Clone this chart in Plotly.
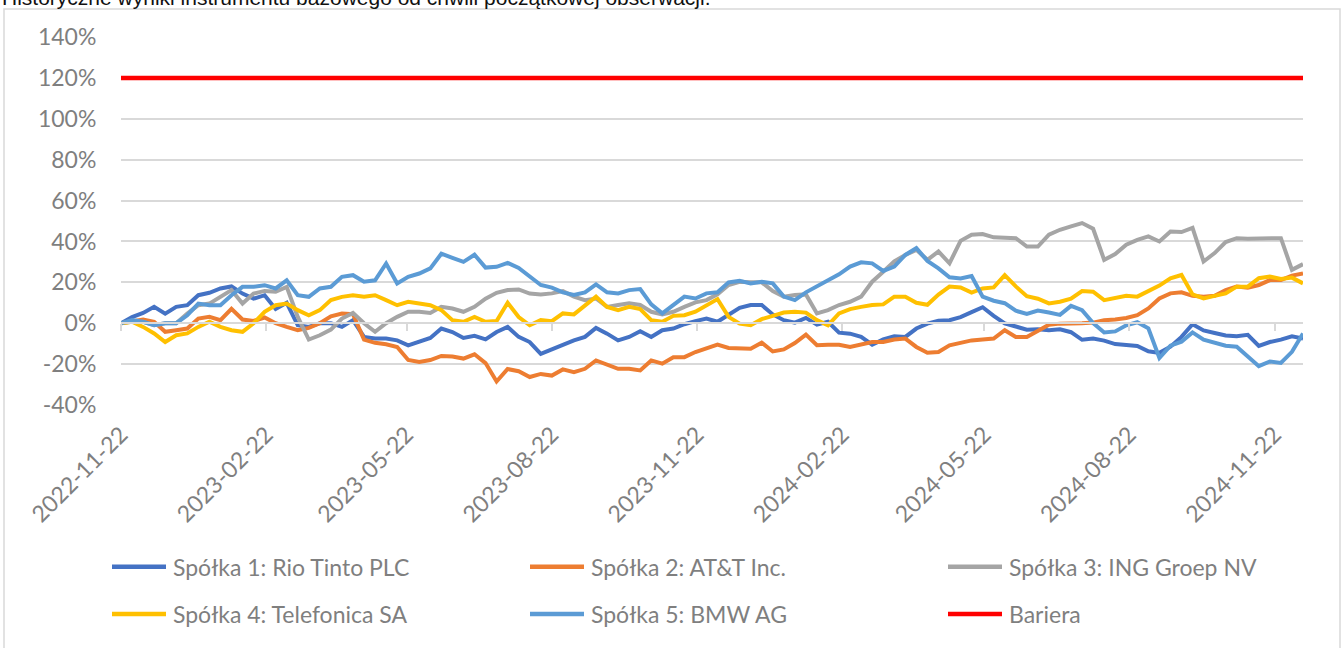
import pandas as pd
import plotly.graph_objects as go

# ---------------- data ----------------
START_DATE = "2022-11-22"
dates = pd.date_range(START_DATE, periods=108, freq="7D")

series_names = [
    "Spółka 1: Rio Tinto PLC",
    "Spółka 2: AT&T Inc.",
    "Spółka 3: ING Groep NV",
    "Spółka 4: Telefonica SA",
    "Spółka 5: BMW AG",
    "Bariera",
]

rio = [
    0, 3, 5, 8, 4.7, 8, 8.8, 13.7, 14.9, 17,
    18, 14.5, 12, 13.7, 7, 10, -1, -1.8, 0, 0,
    -1.8, 1.5, -6.7, -7.5, -7.5, -8.4, -10.8, -9.2, -7.2, -2.6,
    -4.3, -7.2, -6.2, -7.9, -4.3, -1.8, -6.7, -9.2, -15, -12.8,
    -10.5, -8.4, -6.7, -2.3, -5.1, -8.4, -6.7, -3.9, -6.7, -3.4,
    -2.6, -0.5, 1, 2.3, 0.7, 3.9, 7.5, 8.9, 8.9, 4.3,
    1.5, 0.3, 2.6, -0.7, 0.7, -4.6, -5.1, -6.7, -10.5, -7.9,
    -6.4, -6.7, -2.6, -0.2, 1.2, 1.5, 3, 5.4, 7.8, 3.6,
    -0.1, -1.6, -3.2, -3, -3.4, -3, -4.4, -8.1, -7.5, -8.5,
    -10.2, -10.6, -11.1, -13.7, -14.5, -11.5, -6.7, -0.5, -3.5, -4.8,
    -6, -6.4, -5.7, -11.1, -9.2, -8, -6.4, -7.5,
]

att = [
    0, 1, 1.8, 0.7, -4.2, -3.4, -2.6, 2.3, 3.1, 1.5,
    7, 1.8, 1.1, 2.8, 0, -1.8, -3.4, -2.3, 0, 3.4,
    4.7, 4.4, -8, -9.6, -10.3, -11.6, -18, -19, -18, -16,
    -16.3, -17.3, -15.2, -19.5, -28.5, -22.4, -23.5, -26.3, -24.8, -25.6,
    -22.6, -23.9, -22.3, -18.2, -20.3, -22.3, -22.3, -23.1, -18.2, -19.8,
    -16.6, -16.6, -14.1, -12.1, -10.5, -12.1, -12.5, -12.5, -9.5, -13.8,
    -12.8, -9.7, -5.6, -10.8, -10.5, -10.5, -11.6, -10.5, -9.2, -9.2,
    -8, -7.5, -11.6, -14.4, -14.1, -10.8, -9.7, -8.4, -8, -7.5,
    -3.4, -6.7, -6.7, -3.9, -0.7, -0.2, -0.2, 0, 0.3, 1.5,
    1.8, 2.6, 3.9, 7.2, 12.1, 14.6, 15.1, 13.4, 13, 13.4,
    16.2, 17.9, 17.4, 18.7, 21.1, 21.1, 23.3, 24.4,
]

ing = [
    0, 0.7, 0.7, -1, 0, 0, 4.7, 8.8, 9.6, 12.9,
    16.2, 9.6, 14.5, 15.8, 15.4, 17.8, 3.1, -8, -5.9, -3.1,
    2.3, 5, 0, -4.2, 0, 3.1, 5.6, 5.6, 5, 8,
    7.2, 5.6, 8, 12, 14.9, 16.2, 16.5, 14.5, 14.1, 14.6,
    15.7, 13, 11.3, 12.1, 8, 8.9, 9.7, 8.9, 5.6, 4.3,
    5.6, 8, 10.2, 11.3, 14.1, 18.7, 20.3, 20, 20, 15.7,
    13, 13.8, 14.1, 4.8, 6.4, 8.9, 10.5, 13, 20.3, 25.2,
    30.2, 33.4, 35.9, 31, 35.1, 29.3, 40.3, 43.3, 43.6, 42,
    42, 41.6, 37.5, 37.5, 43.3, 45.7, 47.4, 49, 46.2, 31,
    33.8, 38.4, 40.8, 42.5, 40, 44.9, 44.6, 46.6, 30.2, 34.3,
    39.7, 41.6, 41.3, 41.3, 41.6, 41.6, 26.1, 28.9,
]

tef = [
    0, 0.7, -1.8, -5, -9.2, -5.9, -5, -1.8, 0.7, -1.8,
    -3.4, -4.2, 0, 5.6, 8.8, 9.6, 6.4, 3.9, 6.4, 11.3,
    12.9, 13.7, 12.9, 13.7, 11.3, 8.8, 10.5, 9.6, 8.8, 6.4,
    1.5, 0.7, 3.1, 0.7, 1.1, 10, 3, -1, 1.5, 1,
    4.8, 4.3, 8.9, 13, 8, 6.4, 8, 6.9, 1.5, 0.7,
    3.6, 3.9, 5.6, 8.9, 11.8, 3.1, -0.2, -1, 2, 3.6,
    5.2, 5.6, 5.2, 1.5, -1, 4.8, 6.9, 8, 8.9, 9.2,
    13, 13, 10, 9, 14, 17.9, 17.5, 15, 17, 17.5,
    23.5, 18, 13.2, 12, 9.7, 10.5, 12, 15.7, 15.4, 11.3,
    12.5, 13.4, 13, 15.7, 18.4, 22, 23.6, 14.1, 12.1, 13.4,
    14.6, 17.9, 17.9, 22, 22.8, 21.6, 22.3, 19.5,
]

bmw = [
    0, 1.5, 0.7, -1, 0, 0, 3.9, 9.6, 8.8, 8.8,
    13.7, 17.8, 17.8, 18.6, 17, 21, 13.7, 12.9, 17, 17.8,
    22.7, 23.5, 20.3, 21, 29.2, 19.4, 22.7, 24.3, 26.8, 34,
    32, 30, 33.5, 27.2, 27.6, 29.5, 27, 22.8, 18.7, 17.4,
    15.1, 13.8, 15.1, 19, 15.1, 14.6, 16.2, 16.7, 9.2, 4.8,
    9.2, 13, 12.1, 14.6, 15.1, 20, 20.7, 19.5, 20.3, 19.5,
    13, 11.3, 15.1, 17.9, 21.1, 23.9, 27.7, 29.8, 29.3, 25.6,
    27.7, 33.4, 36.7, 30.5, 26.8, 22.5, 21.9, 23.1, 13, 11,
    9.8, 6.1, 4.5, 6.2, 5.2, 4.1, 8.5, 6.4, 0.1, -4.5,
    -4, -1, 0.5, -2.5, -17, -11, -9, -4.5, -8, -9.5,
    -11, -11.5, -16.5, -21, -18.7, -19.4, -14, -5,
]

barrier_level = 120
bariera = [barrier_level] * len(dates)

x_tick_vals = ["2022-11-22", "2023-02-22", "2023-05-22", "2023-08-22", "2023-11-22",
               "2024-02-22", "2024-05-22", "2024-08-22", "2024-11-22"]
x_tick_text = list(x_tick_vals)
y_tick_vals = [-40, -20, 0, 20, 40, 60, 80, 100, 120, 140]
y_tick_text = ["-40%", "-20%", "0%", "20%", "40%", "60%", "80%", "100%", "120%", "140%"]

title_text = "Historyczne wyniki instrumentu bazowego od chwili początkowej obserwacji."

# ---------------- style / layout ----------------
colors = ["#4472C4", "#ED7D31", "#A5A5A5", "#FFC000", "#5B9BD5", "#FF0000"]
FONT = "Lato"
TXT = "#7F7F7F"
GRID = "#D9D9D9"

W, H = 1343, 648
L, R, T, B = 121, 40, 37, 243
PW, PH = W - L - R, H - T - B


def px_x(px):
    return (px - L) / PW


def px_y(py):
    return (H - B - py) / PH


fig = go.Figure()
for name, vals, col in zip(series_names[:5], [rio, att, ing, tef, bmw], colors[:5]):
    fig.add_trace(go.Scatter(x=dates, y=vals, mode="lines", name=name,
                             line=dict(color=col, width=4), showlegend=False))
fig.add_trace(go.Scatter(x=dates, y=bariera, mode="lines", name=series_names[5],
                         xaxis="x2", line=dict(color=colors[5], width=4.5),
                         showlegend=False))

y_min, y_max = y_tick_vals[0], y_tick_vals[-1]

fig.update_layout(
    width=W, height=H,
    margin=dict(l=L, r=R, t=T, b=B, pad=0),
    paper_bgcolor="white", plot_bgcolor="white",
    font=dict(family=FONT, size=23, color=TXT),
    xaxis=dict(type="date", range=[dates[0], dates[-1]],
               tickmode="array", tickvals=x_tick_vals, ticktext=x_tick_text,
               tickangle=-45, showgrid=False, zeroline=False, showline=False,
               ticks="outside", ticklen=6, tickcolor="rgba(0,0,0,0)",
               tickfont=dict(family=FONT, size=23, color=TXT)),
    xaxis2=dict(type="date", overlaying="x", matches="x", anchor="free",
                position=(0 - y_min) / (y_max - y_min), side="bottom",
                tickmode="array", tickvals=x_tick_vals, showticklabels=False,
                showgrid=False, zeroline=False, showline=True,
                linecolor=GRID, linewidth=1.5,
                ticks="outside", ticklen=7, tickwidth=1.5, tickcolor=GRID),
    yaxis=dict(range=[y_min, y_max], tickmode="array",
               tickvals=y_tick_vals, ticktext=y_tick_text,
               showgrid=True, gridcolor=GRID, gridwidth=1.5,
               zeroline=False, showline=False,
               ticks="outside", ticklen=19, tickcolor="rgba(0,0,0,0)",
               tickfont=dict(family=FONT, size=23, color=TXT)),
)

shapes = [dict(type="rect", xref="paper", yref="paper",
               x0=px_x(4), x1=px_x(1340), y0=px_y(700), y1=px_y(9),
               line=dict(color=GRID, width=1.5), fillcolor="rgba(0,0,0,0)",
               layer="below")]
annotations = [dict(text=title_text, xref="paper", yref="paper",
                    x=px_x(0), y=px_y(11), xanchor="left", yanchor="bottom",
                    showarrow=False,
                    font=dict(family="Liberation Sans", size=21, color="#111111"))]

# manual legend: 2 rows x 3 columns
for i, (name, col) in enumerate(zip(series_names, colors)):
    c, r = i % 3, i // 3
    sx0 = 112 + 418 * c
    sy = 566.7 + 47.3 * r
    shapes.append(dict(type="line", xref="paper", yref="paper",
                       x0=px_x(sx0), x1=px_x(sx0 + 54), y0=px_y(sy), y1=px_y(sy),
                       line=dict(color=col, width=4.5)))
    annotations.append(dict(text=name, xref="paper", yref="paper",
                            x=px_x(sx0 + 59), y=px_y(sy), xanchor="left",
                            yanchor="middle", showarrow=False,
                            font=dict(family=FONT, size=23, color=TXT)))

fig.update_layout(shapes=shapes, annotations=annotations)

fig.write_html("out.html", config={"displayModeBar": False},
               post_script="document.body.style.margin='0';document.body.style.overflow='hidden';")
